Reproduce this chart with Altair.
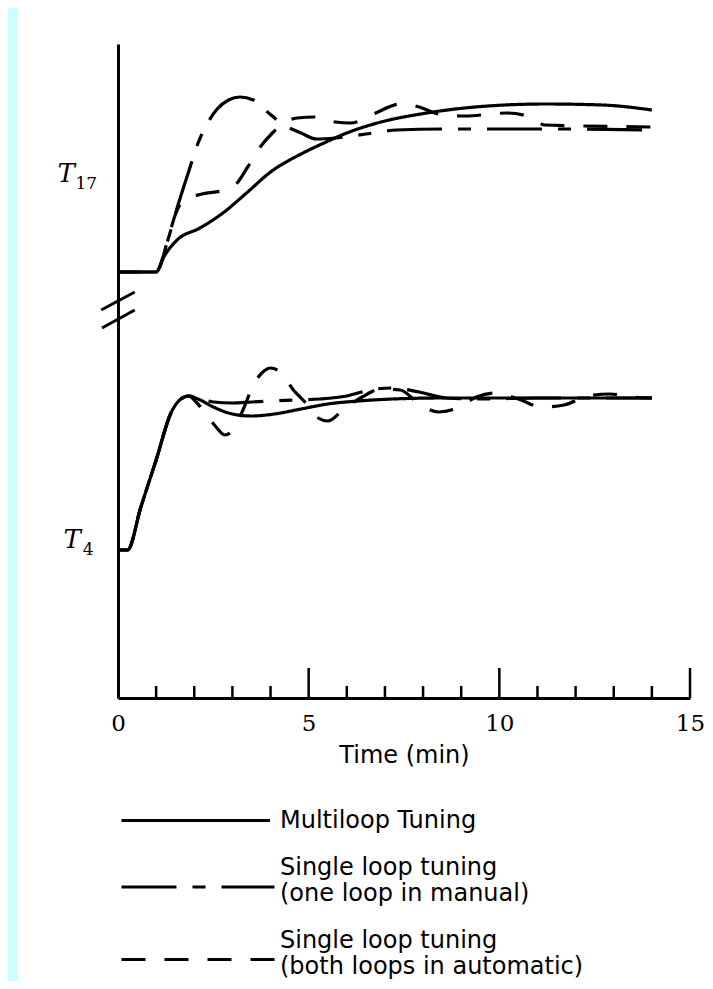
import altair as alt
import pandas as pd

# ---------------- series names (legend text, '|' = line break) ----------------
SERIES = [
    "Multiloop Tuning",
    "Single loop tuning|(one loop in manual)",
    "Single loop tuning|(both loops in automatic)",
]
DASHES = [[1, 0], [55, 16, 13, 16], [24, 19]]
# legend sample strokes (SVG paths, unit = half symbol width)
SAMPLES = ["M0,0H9.9", "M0,1.3H10.2", "M0,1.27H10.2"]

# ---------------- T17 response (arbitrary temperature units) ----------------
t17_multi_time = [0, 1.0, 1.2, 1.55, 2.15, 2.75, 3.4, 4.0, 4.8, 5.4, 6.0, 6.8, 8.1, 9.7, 11.2, 12.7, 14.0]
t17_multi_val = [42.6, 42.6, 44.1, 45.8, 47.0, 48.5, 50.6, 52.6, 54.4, 55.5, 56.5, 57.5, 58.5, 59.2, 59.4, 59.3, 58.8]

t17_manual_time = [0, 1.0, 1.3, 1.55, 1.85, 2.1, 2.35, 2.6, 2.9, 3.2, 3.55, 3.95, 4.35, 4.8, 5.2, 5.7, 6.5, 7.3, 8.6, 10.2, 11.7, 14.0]
t17_manual_val = [42.6, 42.6, 45.7, 49.0, 52.6, 55.5, 57.5, 58.9, 59.8, 60.1, 59.8, 58.5, 57.3, 56.5, 55.9, 56.0, 56.4, 56.8, 56.9, 56.9, 56.9, 56.8]

t17_auto_time = [0, 1.0, 1.3, 1.5, 1.7, 2.2, 2.8, 3.1, 3.4, 3.75, 4.05, 4.35, 4.7, 5.2, 5.7, 6.1, 6.7, 7.4, 7.9, 8.4, 9.1, 10.2, 10.8, 11.2, 12.2, 14.0]
t17_auto_val = [42.6, 42.6, 45.7, 48.3, 49.7, 50.4, 50.8, 51.4, 53.1, 55.2, 56.5, 57.5, 58.0, 58.1, 57.6, 57.5, 58.4, 59.4, 59.1, 58.4, 58.2, 58.5, 58.1, 57.3, 57.2, 57.1]

# ---------------- T4 response ----------------
t4_multi_time = [0, 0.25, 0.6, 1.0, 1.4, 1.65, 1.85, 2.1, 2.5, 3.0, 3.5, 4.1, 4.8, 5.5, 6.3, 7.2, 8.5, 10, 12, 14]
t4_multi_val = [14.8, 14.8, 19.1, 23.8, 28.6, 29.9, 30.2, 29.9, 29.1, 28.4, 28.2, 28.4, 28.9, 29.4, 29.7, 29.9, 30.0, 30.0, 30.0, 30.0]

t4_manual_time = [0, 0.25, 0.6, 1.0, 1.4, 1.65, 1.85, 2.1, 2.5, 3.0, 3.5, 4.0, 4.6, 5.3, 6.0, 6.6, 7.2, 7.9, 8.6, 9.5, 11, 12.5, 14]
t4_manual_val = [14.8, 14.8, 19.1, 23.8, 28.6, 29.9, 30.2, 30.0, 29.6, 29.5, 29.6, 29.7, 29.8, 29.9, 30.2, 30.8, 31.0, 30.6, 30.0, 29.9, 30.0, 30.0, 30.0]

t4_auto_time = [0, 0.25, 0.6, 1.0, 1.4, 1.65, 1.85, 2.05, 2.3, 2.55, 2.8, 3.05, 3.3, 3.55, 3.8, 4.0, 4.25, 4.6, 4.95, 5.25, 5.5, 5.9,
                6.4, 6.9, 7.4, 7.9, 8.4, 8.9, 9.4, 9.9, 10.5, 11.1, 11.7, 12.3, 12.9, 13.5, 14.0]
t4_auto_val = [14.8, 14.8, 19.1, 23.8, 28.6, 29.9, 30.2, 29.6, 28.4, 27.2, 26.3, 27.0, 29.0, 31.3, 32.6, 33.0, 32.6, 30.8, 29.4, 28.0, 27.7, 28.8,
               30.1, 30.9, 30.8, 29.4, 28.6, 29.0, 30.1, 30.5, 29.9, 29.1, 29.3, 30.2, 30.4, 30.1, 30.0]

# ---------------- axis decorations ----------------
minor_ticks = [1, 2, 3, 4, 6, 7, 8, 9, 11, 12, 13, 14]
major_ticks = [5, 10, 15]
tick_labels = [0, 5, 10, 15]

break_x0 = [-0.44, -0.42]
break_x1 = [0.44, 0.44]
break_y0 = [38.8, 37.0]
break_y1 = [40.6, 38.8]

var_names = ["T", "T"]
var_subs = ["17", "4"]
var_time = [-1.36, -1.2]
var_level = [52.4, 15.8]
sub_time = [-0.83, -0.78]
sub_level = [51.4, 14.8]

MINOR_LEN = 1.2
MAJOR_LEN = 3.0


def frame(panel, series, times, values):
    return pd.DataFrame({"panel": panel, "series": series, "t": times, "value": values})


curves = pd.concat([
    frame("T17", SERIES[0], t17_multi_time, t17_multi_val),
    frame("T17", SERIES[1], t17_manual_time, t17_manual_val),
    frame("T17", SERIES[2], t17_auto_time, t17_auto_val),
    frame("T4", SERIES[0], t4_multi_time, t4_multi_val),
    frame("T4", SERIES[1], t4_manual_time, t4_manual_val),
    frame("T4", SERIES[2], t4_auto_time, t4_auto_val),
], ignore_index=True)

ticks_df = pd.DataFrame({
    "t": minor_ticks + major_ticks,
    "y0": [0.0] * (len(minor_ticks) + len(major_ticks)),
    "y1": [MINOR_LEN] * len(minor_ticks) + [MAJOR_LEN] * len(major_ticks),
})
break_df = pd.DataFrame({"t": break_x0, "x1": break_x1, "value": break_y0, "y1": break_y1})
name_df = pd.DataFrame({"t": var_time, "value": var_level, "txt": var_names})
sub_df = pd.DataFrame({"t": sub_time, "value": sub_level, "txt": var_subs})

x_scale = alt.Scale(domain=[0, 15], nice=False, zero=False)
y_scale = alt.Scale(domain=[0, 65.4], nice=False, zero=False)

X_AXIS = alt.Axis(
    values=tick_labels, title="Time (min)", ticks=False, tickSize=0, grid=False,
    labelFont="DejaVu Serif", labelFontSize=23, labelColor="black", labelBaseline="middle",
    labelPadding=25, labelFlush=False,
    titleFont="DejaVu Sans", titleFontSize=24, titleFontWeight="normal", titleColor="black",
    titlePadding=8, domainColor="black", domainWidth=3,
)
Y_AXIS = alt.Axis(title=None, labels=False, ticks=False, grid=False, domainColor="black", domainWidth=3)

X = alt.X("t:Q", scale=x_scale, axis=X_AXIS, title="Time (min)")
Y = alt.Y("value:Q", scale=y_scale, axis=Y_AXIS, title=None)

LEGEND = alt.Legend(
    title=None, orient="none", legendX=-13, legendY=760, direction="vertical",
    symbolSize=900, symbolStrokeWidth=3, symbolStrokeColor="black",
    symbolFillColor="transparent", symbolOpacity=1,
    labelFont="DejaVu Sans", labelFontSize=24, labelColor="black", labelLimit=0,
    labelOffset=142, labelBaseline="middle", labelExpr="split(datum.label, '|')",
    rowPadding=18, padding=0,
)

band = alt.Chart(pd.DataFrame({"a": [0]})).mark_rect(color="#ccffff").encode(
    x=alt.value(-110), x2=alt.value(-100), y=alt.value(-36), y2=alt.value(950)
)

ticks = alt.Chart(ticks_df).mark_rule(color="black", strokeWidth=2.5).encode(
    x=X,
    y=alt.Y("y0:Q", scale=y_scale, axis=Y_AXIS, title=None),
    y2="y1:Q",
)

breaks = alt.Chart(break_df).mark_rule(color="black", strokeWidth=3).encode(
    x=X, x2="x1:Q", y=Y, y2="y1:Q",
)

lines = alt.Chart(curves).mark_line(
    color="black", strokeWidth=3.2, interpolate="monotone", strokeCap="butt"
).encode(
    x=X,
    y=Y,
    strokeDash=alt.StrokeDash("series:N", scale=alt.Scale(domain=SERIES, range=DASHES), legend=LEGEND),
    detail="panel:N",
)

# empty layer that only lends its shape scale to the legend samples
samples = alt.Chart(curves).transform_filter("false").mark_point(
    color="black", opacity=1, filled=False
).encode(
    x=X,
    y=Y,
    shape=alt.Shape("series:N", scale=alt.Scale(domain=SERIES, range=SAMPLES), legend=LEGEND),
)

names = alt.Chart(name_df).mark_text(
    font="DejaVu Serif", fontStyle="italic", fontSize=26, color="black", align="center", baseline="middle"
).encode(x=X, y=Y, text="txt:N")

subs = alt.Chart(sub_df).mark_text(
    font="DejaVu Serif", fontSize=17, color="black", align="center", baseline="middle"
).encode(x=X, y=Y, text="txt:N")

chart = alt.layer(band, lines, samples, ticks, breaks, names, subs).properties(
    width=572,
    height=654,
    autosize=alt.AutoSizeParams(type="none"),
    padding={"left": 110, "top": 36, "right": 15, "bottom": 283},
    background="white",
).configure_view(stroke=None)

chart.save("out.html", embed_options={"renderer": "svg", "actions": False})
